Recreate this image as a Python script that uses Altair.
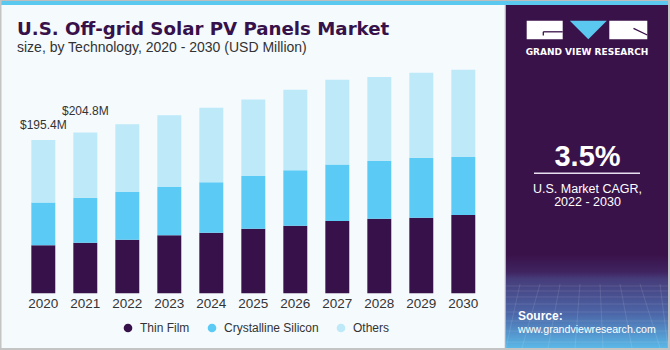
import altair as alt
import pandas as pd

# ---------------- data ----------------
years = [str(y) for y in range(2020, 2031)]
thin_film = [61.3, 64.5, 68.3, 73.9, 77.2, 82.3, 86.1, 92.1, 95.0, 96.3, 99.7]
crystalline = [54.4, 57.3, 60.8, 61.5, 64.2, 67.1, 70.6, 72.2, 73.5, 76.4, 73.9]
others = [79.7, 83.0, 86.2, 91.4, 95.0, 97.7, 102.7, 107.8, 107.0, 108.3, 111.2]
segments = ["Thin Film", "Crystalline Silicon", "Others"]
seg_colors = ["#371149", "#5BCBF5", "#BDE9F9"]
note_years = ["2020", "2021"]
note_text = ["$195.4M", "$204.8M"]

FONT = "Liberation Sans"
PURPLE = "#3A124A"

rows = []
for i, yr in enumerate(years):
    for k, (seg, vals) in enumerate(zip(segments, [thin_film, crystalline, others])):
        rows.append({"year": yr, "segment": seg, "value": vals[i], "order": k})
df = pd.DataFrame(rows)

tot = {yr: thin_film[i] + crystalline[i] + others[i] for i, yr in enumerate(years)}
notes = pd.DataFrame({"year": note_years, "text": note_text,
                      "total": [tot[y] for y in note_years]})
year_df = pd.DataFrame({"year": years})

xscale = alt.Scale(domain=years, range=[22.3, 484.3], paddingInner=0.43, paddingOuter=0.215)
yscale = alt.Scale(domain=[0, 300], range=[293.3, 57.9])

one = alt.Data(values=[{"a": 1}])


def rect(x, x2, y, y2, color, **kw):
    return alt.Chart(one).mark_rect(color=color, **kw).encode(
        x=alt.value(x), x2=alt.value(x2), y=alt.value(y), y2=alt.value(y2))


def rule(x, y, x2, y2, color, w=1.0, op=1.0):
    return alt.Chart(one).mark_rule(color=color, strokeWidth=w, opacity=op).encode(
        x=alt.value(x), y=alt.value(y), x2=alt.value(x2), y2=alt.value(y2))


def text(t, x, y, size, color="white", weight="normal", align="left", font=FONT):
    return alt.Chart(one).mark_text(
        text=t, fontSize=size, fontWeight=weight, color=color, align=align,
        baseline="alphabetic", font=font).encode(x=alt.value(x), y=alt.value(y))


# ------------- decorations --------------
panel = rect(505.5, 670, 0, 350, PURPLE)
grad = alt.Chart(one).mark_rect(
    fill=alt.LinearGradient(
        gradient="linear", x1=0, x2=0, y1=0, y2=1,
        stops=[alt.GradientStop(color=PURPLE, offset=0),
               alt.GradientStop(color="#3F2460", offset=0.18),
               alt.GradientStop(color="#463C7A", offset=0.25),
               alt.GradientStop(color="#4C66A8", offset=0.62),
               alt.GradientStop(color="#5BBDEB", offset=1)])
).encode(x=alt.value(506), x2=alt.value(670), y=alt.value(255), y2=alt.value(350))

# faint perspective grid in the panel's lower part
grid_layers = []
for gy in [286, 291, 297, 304, 312, 321, 331, 342]:
    grid_layers.append(rule(506, gy, 668, gy, "white", 0.6, 0.18))
for gx0, gx1 in [(520, 506), (540, 522), (560, 548), (580, 575), (600, 603),
                 (620, 632), (640, 660), (660, 668)]:
    grid_layers.append(rule(gx0, 284, gx1, 348, "white", 0.6, 0.18))

top_gray = rect(0, 670, 0, 1, "#BDBDBD")
top_blue = rect(0, 670, 1, 5, "#5BC8F0")
left_b = rect(0, 1.5, 0, 350, "#C4C4C4")
bottom_b = rect(0, 670, 348, 350, "#C4C4C4")
right_b = rect(668, 670, 0, 350, "#C4C4C4")
panel_edge = rect(504.5, 505.5, 5, 348, "#D0D0D8")

# logo
logo_g = rect(526.7, 562.7, 20.7, 39.3, "white")
logo_g_line = rule(543.3, 31.8, 562.7, 31.8, PURPLE, 1.3)
logo_g_v = rule(543.3, 31.8, 543.3, 35.5, PURPLE, 1.3)
logo_r = rect(609.3, 647.3, 20.7, 39.3, "white")
logo_r_line = rule(633.5, 28.3, 647.3, 35.0, PURPLE, 1.3)
logo_tri = alt.Chart(one).mark_point(
    shape="M-1,-0.5L1,-0.5L0,0.5Z", filled=True, color="#5BC8F0", opacity=1, size=1369
).encode(x=alt.value(588.3), y=alt.value(30))
logo_txt = text("GRAND VIEW RESEARCH", 587, 54.5, 9, weight="bold", align="center",
                font="DejaVu Sans")

cagr = text("3.5%", 587.5, 165.7, 29, weight="bold", align="center")
cagr_line = rule(534, 173.3, 640, 173.3, "#E8E0F0", 1.5)
cagr1 = text("U.S. Market CAGR,", 587.5, 192.5, 12.5, align="center")
cagr2 = text("2022 - 2030", 587.5, 206, 12.5, align="center")
src1 = text("Source:", 518, 320, 12, weight="bold")
src2 = text("www.grandviewresearch.com", 518, 333, 10.6)

title = text("U.S. Off-grid Solar PV Panels Market", 17, 35, 18.2,
             color="#371149", weight="bold", font="DejaVu Sans")
subtitle = text("size, by Technology, 2020 - 2030 (USD Million)", 17, 52, 14,
                color="#333333")

# ------------- bars --------------
bars = alt.Chart(df).mark_bar().encode(
    x=alt.X("year:N", scale=xscale, axis=None),
    y=alt.Y("value:Q", stack="zero", scale=yscale, axis=None),
    color=alt.Color(
        "segment:N",
        scale=alt.Scale(domain=segments, range=seg_colors),
        legend=alt.Legend(
            title=None, orient="none", legendX=122, legendY=322,
            direction="horizontal", symbolType="circle", symbolSize=75,
            symbolStrokeWidth=0, labelFontSize=12, labelFont=FONT,
            labelColor="#333333", columnPadding=16, labelOffset=6, padding=0),
    ),
    order=alt.Order("order:Q", sort="ascending"),
)

year_labels = alt.Chart(year_df).mark_text(
    fontSize=13.5, font=FONT, color="#333333", baseline="alphabetic"
).encode(x=alt.X("year:N", scale=xscale, axis=None), y=alt.value(308.3), text="year:N")

note_layers = []
for yr, dy in zip(note_years, [-10.8, -17.8]):
    note_layers.append(
        alt.Chart(notes).transform_filter(alt.datum.year == yr).mark_text(
            fontSize=12, font=FONT, color="#333333", baseline="alphabetic", dy=dy
        ).encode(x=alt.X("year:N", scale=xscale, axis=None),
                 y=alt.Y("total:Q", scale=yscale, axis=None),
                 text="text:N"))

chart = alt.layer(
    panel, grad, *grid_layers, top_gray, top_blue, left_b, bottom_b, right_b, panel_edge,
    logo_g, logo_g_line, logo_g_v, logo_r, logo_r_line, logo_tri, logo_txt,
    cagr, cagr_line, cagr1, cagr2, src1, src2, title, subtitle,
    bars, year_labels, *note_layers
).properties(
    width=670, height=350, padding=0,
    autosize=alt.AutoSizeParams(type="none"),
    background="#F5FAFD",
).configure_view(stroke=None)

chart.save("out.html", embed_options={"renderer": "svg", "actions": False})
